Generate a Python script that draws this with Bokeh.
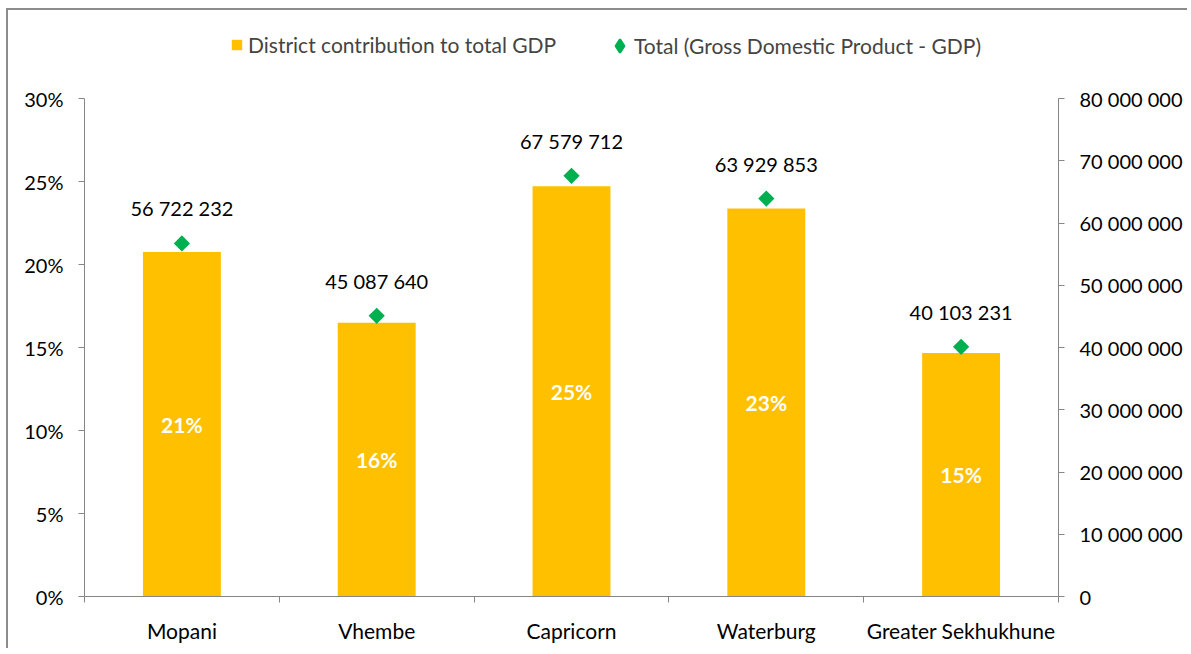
from bokeh.plotting import figure
from bokeh.models import (Range1d, LinearAxis, FixedTicker, ColumnDataSource,
                          Legend, LegendItem, NumeralTickFormatter)
from bokeh.core.properties import value
from bokeh.embed import file_html
from bokeh.resources import INLINE
import math

# ---- data ----
districts = ["Mopani", "Vhembe", "Capricorn", "Waterburg", "Greater Sekhukhune"]
share_pct = [20.75, 16.49, 24.72, 23.38, 14.67]          # % contribution to total GDP
gdp_total = [56722232, 45087640, 67579712, 63929853, 40103231]
left_ticks = [0, 0.05, 0.10, 0.15, 0.20, 0.25, 0.30]
right_ticks = [0, 10000000, 20000000, 30000000, 40000000, 50000000, 60000000, 70000000, 80000000]
series_names = ["District contribution to total GDP", "Total (Gross Domestic Product - GDP)"]

FONT = "Lato"
BAR = "#FFC000"
DIAM = "#00B050"
AX = "#868686"

def spaced(n):
    return "{:,}".format(int(n)).replace(",", " ")

# frame geometry (px): axis part 498 px tall, extra headroom above it for the legend
AXIS_PX = 498
FRAME_PX = 584
ext = FRAME_PX / AXIS_PX
L_MAX = left_ticks[-1]
R_MAX = right_ticks[-1]

xs = [i + 0.5 for i in range(len(districts))]
src = ColumnDataSource(dict(
    x=xs,
    share=[s / 100 for s in share_pct],
    half=[s / 200 for s in share_pct],
    plabel=["{}%".format(int(math.floor(s + 0.5))) for s in share_pct],
    gdp=gdp_total,
    glabel=[spaced(g) for g in gdp_total],
))

p = figure(width=1181, height=640, output_backend="svg", toolbar_location=None,
           x_range=Range1d(0, len(districts)), y_range=Range1d(0, L_MAX * ext),
           min_border_left=76, min_border_right=131, min_border_top=2,
           min_border_bottom=54, x_axis_type=None, y_axis_type=None)
p.styles = {"border-top": "2px solid #8c8c8c", "border-left": "2px solid #8c8c8c",
            "margin-top": "8px", "margin-left": "6px"}
p.outline_line_color = None
p.xgrid.visible = False
p.ygrid.visible = False
p.extra_y_ranges = {"gdp": Range1d(0, R_MAX * ext)}

# left axis
la = LinearAxis(ticker=FixedTicker(ticks=left_ticks), bounds=(0, L_MAX),
                formatter=NumeralTickFormatter(format="0%"))
# right axis
ra = LinearAxis(y_range_name="gdp", ticker=FixedTicker(ticks=right_ticks), bounds=(0, R_MAX))
ra.major_label_overrides = {t: spaced(t) for t in right_ticks}
# bottom axis: boundaries as minor ticks, labels at centres
ba = LinearAxis(ticker=FixedTicker(ticks=xs, minor_ticks=list(range(len(districts) + 1))))
ba.major_label_overrides = {x: d for x, d in zip(xs, districts)}
ba.major_tick_line_color = None
ba.minor_tick_out = 6
ba.minor_tick_in = 0
ba.minor_tick_line_color = AX

for ax in (la, ra, ba):
    ax.axis_line_color = AX
    ax.axis_line_width = 1
    ax.major_label_text_font = FONT
    ax.major_label_text_font_size = "20px"
    ax.major_label_text_color = "#000000"
    ax.major_label_standoff = 15
ba.major_label_text_font_size = "21px"
for ax in (la, ra):
    ax.major_tick_line_color = AX
    ax.major_tick_out = 6
    ax.major_tick_in = 0
    ax.minor_tick_line_color = None

p.add_layout(la, "left")
p.add_layout(ra, "right")
p.add_layout(ba, "below")

bars = p.vbar(x="x", top="share", width=0.4, source=src, fill_color=BAR, line_color=None)
pts = p.scatter(x="x", y="gdp", y_range_name="gdp", source=src, marker="square",
                size=11.5, angle=math.pi / 4, fill_color=DIAM, line_color=None)
# legend swatch for the diamonds (legend markers are never rotated); zero size in the plot
pts_key = p.scatter(x="x", y="gdp", y_range_name="gdp", source=src, marker="diamond",
                    size=0, fill_color=DIAM, line_color=DIAM, line_width=3,
                    line_join="round")

p.text(x="x", y="gdp", text="glabel", y_range_name="gdp", source=src,
       text_font=value(FONT), text_font_size="20px", text_color="#000000",
       text_align="center", text_baseline="middle", y_offset=-35)
p.text(x="x", y="half", text="plabel", source=src,
       text_font=value(FONT), text_font_size="21px", text_font_style="bold",
       text_color="#FFFFFF", text_align="center", text_baseline="middle")

common = dict(orientation="horizontal", label_text_font=FONT, label_text_font_size="21px",
              border_line_color=None, background_fill_alpha=0, padding=0, margin=0)
leg1 = Legend(items=[LegendItem(label=series_names[0], renderers=[bars])],
              location=(146, 539), glyph_width=13, glyph_height=13, label_standoff=5, **common)
leg2 = Legend(items=[LegendItem(label=series_names[1], renderers=[pts_key])],
              location=(521, 536), glyph_width=29, glyph_height=29, label_standoff=0, **common)
p.add_layout(leg1, "center")
p.add_layout(leg2, "center")

open("out.html", "w").write(file_html(p, INLINE))
